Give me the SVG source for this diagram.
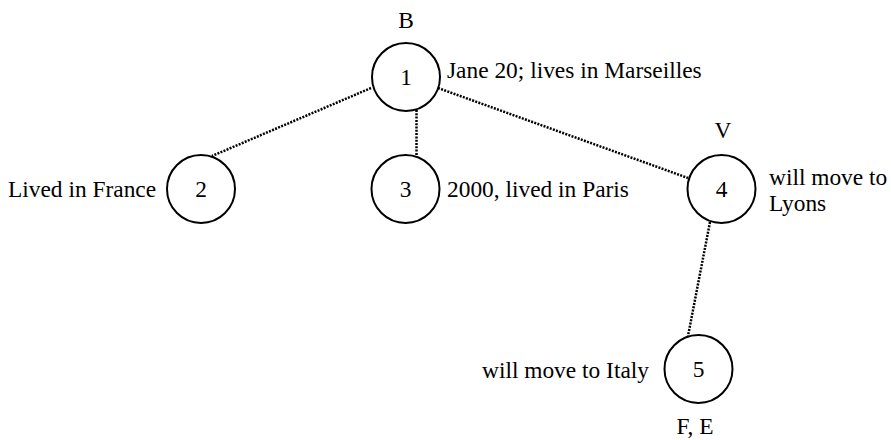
<svg xmlns="http://www.w3.org/2000/svg" width="891" height="440" viewBox="0 0 891 440">
<style>
  .node circle { fill: #fff; stroke: #000; stroke-width: 2; }
  text { font-family: "Liberation Serif", "Times New Roman", serif; font-size: 23.4px; fill: #000; }
  .num { text-anchor: middle; }
  .conn line { stroke: #000; stroke-width: 2.5; stroke-dasharray: 2 1.3; }
</style>
<rect width="891" height="440" fill="#fff"/>
<g id="connectors" class="conn">
  <line x1="371" y1="88" x2="212" y2="156"/>
  <line x1="416.5" y1="110" x2="416.5" y2="155"/>
  <line x1="438" y1="88" x2="688" y2="178"/>
  <line x1="710" y1="222" x2="688" y2="336"/>
</g>
<g id="node1" class="node">
  <circle cx="406" cy="77" r="34"/>
  <text class="num" x="406" y="85">1</text>
  <text class="num" x="406" y="28">B</text>
  <text x="447" y="78">Jane 20; lives in Marseilles</text>
</g>
<g id="node2" class="node">
  <circle cx="201" cy="189" r="34"/>
  <text class="num" x="201" y="197">2</text>
  <text x="8" y="197">Lived in France</text>
</g>
<g id="node3" class="node">
  <circle cx="405.5" cy="189" r="34"/>
  <text class="num" x="405.5" y="197">3</text>
  <text x="447" y="197">2000, lived in Paris</text>
</g>
<g id="node4" class="node">
  <circle cx="721.5" cy="189" r="34"/>
  <text class="num" x="721.5" y="197">4</text>
  <text class="num" x="723" y="138">V</text>
  <text x="769" y="185">will move to</text>
  <text x="769" y="211">Lyons</text>
</g>
<g id="node5" class="node">
  <circle cx="698.5" cy="369" r="34"/>
  <text class="num" x="698.5" y="377">5</text>
  <text x="482" y="378">will move to Italy</text>
  <text class="num" x="695" y="434">F, E</text>
</g>
</svg>
